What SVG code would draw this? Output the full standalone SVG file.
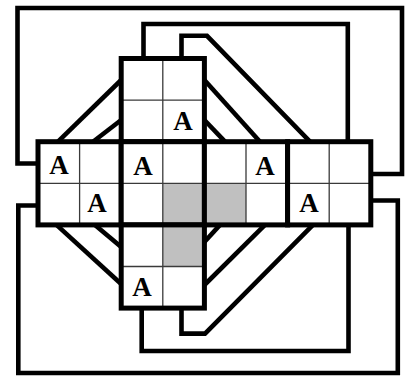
<svg xmlns="http://www.w3.org/2000/svg" width="414" height="376" viewBox="0 0 414 376">
<style>
.cell{fill:#ffffff;stroke:none}
.gray{fill:#c0c0c0;stroke:none}
.thin{stroke:#3a3a3a;stroke-width:1.3;fill:none}
.thick{stroke:#000;stroke-width:5;fill:none;stroke-linejoin:miter}
.conn{stroke:#000;stroke-width:4.6;fill:none;stroke-linejoin:miter;stroke-linecap:butt}
.lbl{font-family:"Liberation Serif","Times New Roman",serif;font-weight:bold;font-size:27px;fill:#000;text-anchor:middle}
</style>
<rect width="414" height="376" fill="#ffffff"/>
<g id="connectors">
<path class="conn" d="M38,163.5 H17.5 V8 H402 V174 H370.8"/>
<path class="conn" d="M38,205.5 H18.3 V373 H397.8 V200.5 H370.8"/>
<path class="conn" d="M143.5,58.5 V24 H347.8 V141.7"/>
<path class="conn" d="M181.5,58.5 V35.8 H207 L310,141.7"/>
<path class="conn" d="M141.7,308.1 V351 H348.5 V224.9"/>
<path class="conn" d="M181.5,308.1 V333.6 H205 L313,224.9"/>
<path class="conn" d="M121.2,80 L58,141.7"/>
<path class="conn" d="M121.2,120 L93,141.7"/>
<path class="conn" d="M56.5,224.9 L121.2,284"/>
<path class="conn" d="M95,224.9 L121.2,247"/>
<path class="conn" d="M204.4,80 L260,141.7"/>
<path class="conn" d="M204.4,120 L225,141.7"/>
<path class="conn" d="M220,224.9 L204.4,242"/>
<path class="conn" d="M265,224.9 L204.4,285"/>
</g>
<g id="block-top">
<rect class="cell" x="121.2" y="58.5" width="83.2" height="83.2"/>
<path class="thin" d="M162.8,58.5 V141.7 M121.2,100.1 H204.4"/>
<rect class="thick" x="121.2" y="58.5" width="83.2" height="83.2"/>
<text class="lbl" x="183" y="130">A</text>
</g>
<g id="block-left">
<rect class="cell" x="38" y="141.7" width="83.2" height="83.2"/>
<path class="thin" d="M79.6,141.7 V224.9 M38,183.3 H121.2"/>
<rect class="thick" x="38" y="141.7" width="83.2" height="83.2"/>
<text class="lbl" x="59" y="174">A</text>
<text class="lbl" x="97" y="212">A</text>
</g>
<g id="block-center">
<rect class="cell" x="121.2" y="141.7" width="83.2" height="83.2"/>
<rect class="gray" x="162.8" y="183.3" width="41.6" height="41.6"/>
<path class="thin" d="M162.8,141.7 V224.9 M121.2,183.3 H204.4"/>
<rect class="thick" x="121.2" y="141.7" width="83.2" height="83.2"/>
<text class="lbl" x="143" y="175">A</text>
</g>
<g id="block-right1">
<rect class="cell" x="204.4" y="141.7" width="83.2" height="83.2"/>
<rect class="gray" x="204.4" y="183.3" width="41.6" height="41.6"/>
<path class="thin" d="M246,141.7 V224.9 M204.4,183.3 H287.6"/>
<rect class="thick" x="204.4" y="141.7" width="83.2" height="83.2"/>
<text class="lbl" x="265" y="175">A</text>
</g>
<g id="block-right2">
<rect class="cell" x="287.6" y="141.7" width="83.2" height="83.2"/>
<path class="thin" d="M329.2,141.7 V224.9 M287.6,183.3 H370.8"/>
<rect class="thick" x="287.6" y="141.7" width="83.2" height="83.2"/>
<text class="lbl" x="309" y="212">A</text>
</g>
<g id="block-bottom">
<rect class="cell" x="121.2" y="224.9" width="83.2" height="83.2"/>
<rect class="gray" x="162.8" y="224.9" width="41.6" height="41.6"/>
<path class="thin" d="M162.8,224.9 V308.1 M121.2,266.5 H204.4"/>
<rect class="thick" x="121.2" y="224.9" width="83.2" height="83.2"/>
<text class="lbl" x="142" y="296">A</text>
</g>
</svg>
